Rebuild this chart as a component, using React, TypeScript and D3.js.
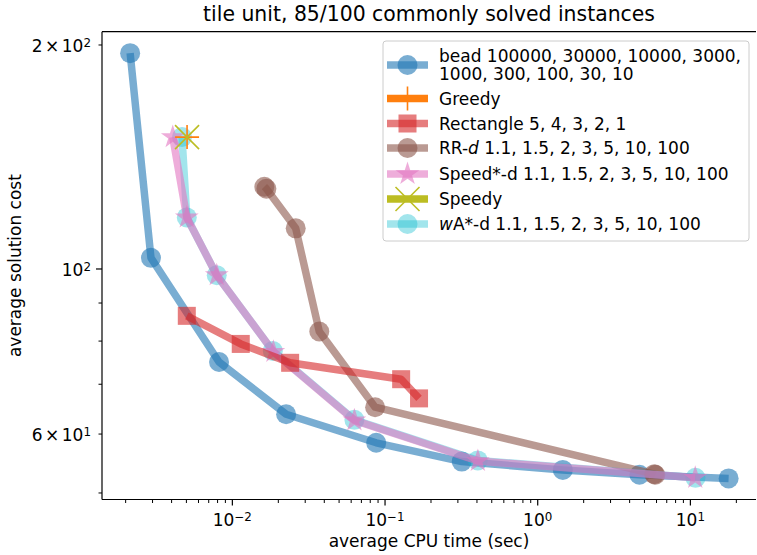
import React from "react";
import * as d3 from "d3";

// ---------- data ----------
const beadX = [0.00214, 0.00293, 0.00818, 0.0225, 0.0875, 0.318, 1.46, 4.64, 17.8];
const beadY = [195, 103.5, 75.0, 63.8, 58.4, 55.1, 53.7, 52.9, 52.3];

const greedyX = [0.00505];
const greedyY = [150.4];

const rectX = [0.00503, 0.01135, 0.0239, 0.1275, 0.167];
const rectY = [86.5, 79.3, 74.8, 71.1, 67.0];

const rrX = [0.0162, 0.0167, 0.026, 0.0371, 0.0861, 5.8, 5.89];
const rrY = [129.0, 128.2, 113.4, 82.4, 65.2, 53.0, 52.9];

const speedStarX = [0.00407, 0.00503, 0.0079, 0.01857, 0.063, 0.4055, 10.76];
const speedStarY = [150.4, 117.3, 98.1, 77.4, 62.6, 55.2, 52.4];

const speedyX = [0.00505];
const speedyY = [150.4];

const waX = [0.00468, 0.00503, 0.0079, 0.0184, 0.063, 0.405, 10.8];
const waY = [150.4, 117.3, 98.1, 77.6, 62.7, 55.3, 52.4];

const xMajorTicks = [0.01, 0.1, 1, 10];
const xMajorExp = ["\u22122", "\u22121", "0", "1"];
const yMinorTicks = [50, 60, 70, 80, 90, 200];
const yLabeled = [
  { v: 200, m: "2", e: "2" },
  { v: 100, m: "", e: "2" },
  { v: 60, m: "6", e: "1" },
];

const title = "tile unit, 85/100 commonly solved instances";
const xLabel = "average CPU time (sec)";
const yLabel = "average solution cost";
const beadLabel = ["bead 100000, 30000, 10000, 3000,", "1000, 300, 100, 30, 10"];

// ---------- layout ----------
const W = 757;
const H = 555;
const L = 102;
const R = 756;
const T = 31.7;
const B = 499.5;
const FS = 17;

const x = d3.scaleLog().domain([0.0014, 26.9]).range([L, R]);
const y = d3.scaleLog().domain([49.0, 208.4]).range([B, T]);

const C = {
  blue: "#1f77b4",
  orange: "#ff7f0e",
  red: "#d62728",
  brown: "#8c564b",
  pink: "#e377c2",
  olive: "#bcbd22",
  cyan: "#17becf",
};

function starPath(r: number) {
  const inner = r * 0.381966;
  const pts: [number, number][] = [];
  for (let i = 0; i < 10; i++) {
    const a = -Math.PI / 2 + (i * Math.PI) / 5;
    const rr = i % 2 === 0 ? r : inner;
    pts.push([rr * Math.cos(a), rr * Math.sin(a)]);
  }
  return "M" + pts.map((p) => p.join(",")).join("L") + "Z";
}

type MarkerKind = "circle" | "square" | "star" | "plus" | "x";

function Marker({ kind, cx, cy, color, alpha }: { kind: MarkerKind; cx: number; cy: number; color: string; alpha: number }) {
  if (kind === "circle") return <circle cx={cx} cy={cy} r={10} fill={color} fillOpacity={alpha} />;
  if (kind === "square") return <rect x={cx - 9} y={cy - 9} width={18} height={18} fill={color} fillOpacity={alpha} />;
  if (kind === "star") return <path d={starPath(12.5)} transform={`translate(${cx},${cy})`} fill={color} fillOpacity={alpha} />;
  if (kind === "plus")
    return (
      <g stroke={color} strokeOpacity={alpha} strokeWidth={1.6}>
        <line x1={cx - 12} y1={cy} x2={cx + 12} y2={cy} />
        <line x1={cx} y1={cy - 12} x2={cx} y2={cy + 12} />
      </g>
    );
  return (
    <g stroke={color} strokeOpacity={alpha} strokeWidth={1.6}>
      <line x1={cx - 12} y1={cy - 12} x2={cx + 12} y2={cy + 12} />
      <line x1={cx - 12} y1={cy + 12} x2={cx + 12} y2={cy - 12} />
    </g>
  );
}

type Series = { xs: number[]; ys: number[]; color: string; kind: MarkerKind; alpha: number };

const lineGen = d3
  .line<[number, number]>()
  .x((d) => x(d[0]))
  .y((d) => y(d[1]));

function SeriesG({ s }: { s: Series }) {
  const pts: [number, number][] = s.xs.map((v, i) => [v, s.ys[i]]);
  return (
    <g>
      <path d={lineGen(pts) || ""} fill="none" stroke={s.color} strokeOpacity={s.alpha} strokeWidth={7.5} strokeLinejoin="round" />
      {pts.map((p, i) => (
        <Marker key={i} kind={s.kind} cx={x(p[0])} cy={y(p[1])} color={s.color} alpha={s.alpha} />
      ))}
    </g>
  );
}

const bead: Series = { xs: beadX, ys: beadY, color: C.blue, kind: "circle", alpha: 0.6 };
const greedy: Series = { xs: greedyX, ys: greedyY, color: C.orange, kind: "plus", alpha: 1 };
const rect: Series = { xs: rectX, ys: rectY, color: C.red, kind: "square", alpha: 0.6 };
const rr: Series = { xs: rrX, ys: rrY, color: C.brown, kind: "circle", alpha: 0.6 };
const speedStar: Series = { xs: speedStarX, ys: speedStarY, color: C.pink, kind: "star", alpha: 0.6 };
const speedy: Series = { xs: speedyX, ys: speedyY, color: C.olive, kind: "x", alpha: 1 };
const wa: Series = { xs: waX, ys: waY, color: C.cyan, kind: "circle", alpha: 0.4 };

const drawOrder = [bead, rr, wa, speedStar, rect, greedy, speedy];

function minorXTicks() {
  const out: number[] = [];
  for (let e = -3; e <= 1; e++) {
    for (let m = 2; m <= 9; m++) {
      const v = m * Math.pow(10, e);
      if (v > 0.0014 && v < 26.9) out.push(v);
    }
  }
  return out;
}

export default function App() {
  const font = "DejaVu Sans, sans-serif";
  const rowCy = [98.5, 123.5, 148, 174, 199, 224];
  const rowSeries = [greedy, rect, rr, speedStar, speedy, wa];
  const hx1 = 387;
  const hx2 = 428;
  const hcx = (hx1 + hx2) / 2;
  const tx = 439;

  const renderLabel = (i: number) => {
    switch (i) {
      case 0:
        return <tspan>Greedy</tspan>;
      case 1:
        return <tspan>Rectangle 5, 4, 3, 2, 1</tspan>;
      case 2:
        return (
          <>
            <tspan>RR-</tspan>
            <tspan fontStyle="italic">d</tspan>
            <tspan> 1.1, 1.5, 2, 3, 5, 10, 100</tspan>
          </>
        );
      case 3:
        return <tspan>Speed*-d 1.1, 1.5, 2, 3, 5, 10, 100</tspan>;
      case 4:
        return <tspan>Speedy</tspan>;
      default:
        return (
          <>
            <tspan fontStyle="italic">w</tspan>
            <tspan>A*-d 1.1, 1.5, 2, 3, 5, 10, 100</tspan>
          </>
        );
    }
  };

  return (
    <svg width={W} height={H} style={{ position: "absolute", left: 0, top: 0, background: "#fff" }} fontFamily={font}>
      <rect x={0} y={0} width={W} height={H} fill="#fff" />
      <defs>
        <clipPath id="plotclip">
          <rect x={L} y={T} width={R - L} height={B - T} />
        </clipPath>
      </defs>

      <g clipPath="url(#plotclip)">
        {drawOrder.map((s, i) => (
          <SeriesG key={i} s={s} />
        ))}
      </g>

      {/* spines */}
      <line x1={L} y1={T} x2={R} y2={T} stroke="#000" strokeWidth={1.2} />
      <line x1={L} y1={T} x2={L} y2={B} stroke="#000" strokeWidth={1.2} />
      <line x1={L} y1={B} x2={R} y2={B} stroke="#000" strokeWidth={1.2} />

      {/* x ticks */}
      {minorXTicks().map((v, i) => (
        <line key={"xm" + i} x1={x(v)} x2={x(v)} y1={B} y2={B + 3.5} stroke="#000" strokeWidth={1} />
      ))}
      {xMajorTicks.map((v, i) => (
        <g key={"xM" + i}>
          <line x1={x(v)} x2={x(v)} y1={B} y2={B + 6} stroke="#000" strokeWidth={1.2} />
          <text x={x(v)} y={526} fontSize={FS} textAnchor="middle">
            <tspan>10</tspan>
            <tspan dy={-5.5} fontSize={FS * 0.7}>
              {xMajorExp[i]}
            </tspan>
          </text>
        </g>
      ))}

      {/* y ticks */}
      {yMinorTicks.map((v, i) => (
        <line key={"ym" + i} x1={L - 3.5} x2={L} y1={y(v)} y2={y(v)} stroke="#000" strokeWidth={1} />
      ))}
      <line x1={L - 6} x2={L} y1={y(100)} y2={y(100)} stroke="#000" strokeWidth={1.2} />
      {yLabeled.map((d, i) => (
        <text key={"yl" + i} x={91} y={y(d.v) + 7.2} fontSize={FS} textAnchor="end">
          {d.m ? <tspan>{d.m}</tspan> : null}
          {d.m ? <tspan dx={2.5}>×</tspan> : null}
          <tspan dx={d.m ? 2.5 : 0}>10</tspan>
          <tspan dy={-5.5} fontSize={FS * 0.7}>
            {d.e}
          </tspan>
        </text>
      ))}

      {/* labels */}
      <text x={(L + R) / 2} y={21} fontSize={FS * 1.2} textAnchor="middle">
        {title}
      </text>
      <text x={(L + R) / 2} y={547} fontSize={FS} textAnchor="middle">
        {xLabel}
      </text>
      <text transform={`translate(21,${(T + B) / 2}) rotate(-90)`} fontSize={FS} textAnchor="middle">
        {yLabel}
      </text>

      {/* legend */}
      <rect x={383} y={41} width={366} height={200} rx={3} fill="#fff" fillOpacity={0.8} stroke="#cccccc" strokeWidth={1} />
      <g>
        <line x1={hx1} x2={hx2} y1={65} y2={65} stroke={bead.color} strokeOpacity={bead.alpha} strokeWidth={7.5} />
        <Marker kind={bead.kind} cx={hcx} cy={65} color={bead.color} alpha={bead.alpha} />
        <text x={tx} y={61.5} fontSize={FS}>
          <tspan x={tx}>{beadLabel[0]}</tspan>
          <tspan x={tx} dy={18}>
            {beadLabel[1]}
          </tspan>
        </text>
      </g>
      {rowSeries.map((s, i) => (
        <g key={"ls" + i}>
          <line x1={hx1} x2={hx2} y1={rowCy[i]} y2={rowCy[i]} stroke={s.color} strokeOpacity={s.alpha} strokeWidth={7.5} />
          <Marker kind={s.kind} cx={hcx} cy={rowCy[i]} color={s.color} alpha={s.alpha} />
          <text x={tx} y={rowCy[i] + 6} fontSize={FS}>
            {renderLabel(i)}
          </text>
        </g>
      ))}
    </svg>
  );
}
